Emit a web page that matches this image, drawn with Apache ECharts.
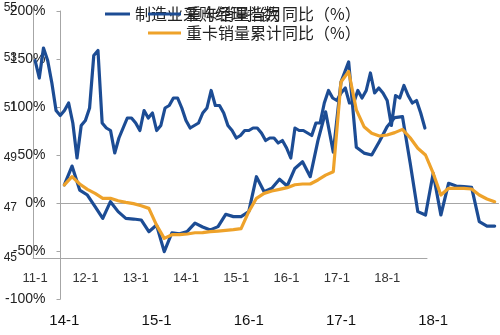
<!DOCTYPE html>
<html>
<head>
<meta charset="utf-8">
<script src="https://cdn.jsdelivr.net/npm/echarts@6/dist/echarts.min.js"></script>
<style>
  html, body { margin: 0; padding: 0; background: #fff; }
  #chart { width: 500px; height: 335px; }
</style>
</head>
<body>
<div id="chart"></div>
<script>
// Month labels in "YY-M" form, starting from a given year/month
function monthLabels(yy, mm, count) {
  const out = [];
  for (let i = 0; i < count; i++) {
    const m = (mm - 1 + i) % 12 + 1;
    const y = yy + Math.floor((mm - 1 + i) / 12);
    out.push(String(y).padStart(2, '0') + '-' + m);
  }
  return out;
}

// Manufacturing PMI, 2011-01 .. 2018-10
const pmiMonths = monthLabels(11, 1, 94);
const pmi = [
  52.9, 52.2, 53.4, 52.9, 52.0, 50.9, 50.7, 50.9, 51.2, 50.4, 49.0, 50.3,
  50.5, 51.0, 53.1, 53.3, 50.4, 50.2, 50.1, 49.2, 49.8, 50.2, 50.6, 50.6,
  50.4, 50.1, 50.9, 50.6, 50.8, 50.1, 50.3, 51.0, 51.1, 51.4, 51.4, 51.0,
  50.5, 50.2, 50.3, 50.4, 50.8, 51.0, 51.7, 51.1, 51.1, 50.8, 50.3, 50.1,
  49.8, 49.9, 50.1, 50.1, 50.2, 50.2, 50.0, 49.7, 49.8, 49.8, 49.6, 49.7,
  49.4, 49.0, 50.2, 50.1, 50.1, 50.0, 49.9, 50.4, 50.4, 51.2, 51.7, 51.4,
  51.3, 51.6, 51.8, 51.2, 51.2, 51.7, 51.4, 51.7, 52.4, 51.6, 51.8, 51.6,
  51.3, 50.3, 51.5, 51.4, 51.9, 51.5, 51.2, 51.3, 50.8, 50.2
];

// Heavy-truck sales growth (%), 2014-01 .. 2018-09
const truckMonths = monthLabels(14, 1, 57);
const truckMonthly = [
  18.8, 38.5, 13.5, 8.3, -3.8, -16, 1.4, -9, -16, -16.7, -17.7, -29.9,
  -23, -50.7, -31, -32, -29.6, -21, -25, -28, -24.6, -11.8, -14.2, -14.2,
  -9, 27.4, 11.8, 15.3, 24.7, 17.7, 36, 43, 27.4, 65, 95, 53,
  126, 147, 58, 52, 50, 64, 79.5, 89, 90, 42, -9, -12.5,
  31, -12.5, 20.5, 17.7, 17, 16.3, -19.5, -24, -24
];
const truckCumulative = [
  18.8, 27.4, 19.8, 14.2, 10, 4.9, 4.9, 2.4, 0.7, -0.7, -2.8, -5.6,
  -23, -36.8, -33, -33, -32.3, -31, -30.9, -29.9, -29.2, -28.5, -27.8, -26.7,
  -9, 4.9, 10, 12.5, 14.2, 16, 19, 19.8, 19.8, 24, 29, 32.6,
  126, 137, 97, 79.5, 72.6, 69.8, 70.8, 73.3, 76.7, 68, 57, 50,
  31, 8.3, 15.3, 15.3, 15.3, 14.6, 8.3, 4.2, 1.4
];

const NAME_PMI = '制造业采购经理指数';
const NAME_MONTH = '重卡销量当月同比（%）';
const NAME_CUM = '重卡销量累计同比（%）';

const BLUE = '#1c4c94';
const ORANGE = '#eea22a';
const AXIS = '#a6a6a6';
const NUM_FONT = 'Liberation Sans, Arial, sans-serif';
const CJK_FONT = 'Noto Sans CJK SC, sans-serif';

const chart = echarts.init(document.getElementById('chart'), null, { renderer: 'canvas' });

const lineStyleOf = (color) => ({ color: color, width: 3.2, cap: 'round', join: 'round' });

chart.setOption({
  animation: false,
  backgroundColor: '#fff',
  grid: [
    { left: 33, top: 8, width: 394, height: 250 },
    { left: 60.5, top: 11, width: 438, height: 288 }
  ],
  legend: [
    {
      data: [NAME_PMI], left: 105, top: 4.5, padding: 0,
      icon: 'rect', itemWidth: 25, itemHeight: 3, itemGap: 0,
      textStyle: { fontSize: 16, lineHeight: 19, color: '#222', fontFamily: CJK_FONT }
    },
    {
      data: [NAME_MONTH, NAME_CUM], orient: 'vertical', left: 148, top: 4.5, padding: 0,
      icon: 'rect', itemWidth: 33, itemHeight: 3, itemGap: 0,
      textStyle: { fontSize: 16, lineHeight: 19, color: '#222', fontFamily: CJK_FONT }
    }
  ],
  xAxis: [
    {
      gridIndex: 0, type: 'category', data: pmiMonths, position: 'bottom',
      axisLine: { lineStyle: { color: AXIS } },
      axisTick: { interval: 11, inside: true, length: 4, lineStyle: { color: AXIS } },
      axisLabel: { interval: 11, margin: 14, fontSize: 13, color: '#333', fontFamily: NUM_FONT }
    },
    {
      gridIndex: 1, type: 'category', data: truckMonths, position: 'bottom',
      axisLine: { show: false, onZero: false },
      axisTick: { show: false },
      axisLabel: { interval: 11, margin: 14, fontSize: 15, color: '#111', fontFamily: NUM_FONT }
    },
    {
      gridIndex: 1, type: 'category', data: truckMonths, position: 'bottom',
      axisLine: { onZero: true, lineStyle: { color: AXIS } },
      axisTick: { interval: 11, length: 5, lineStyle: { color: AXIS } },
      axisLabel: { show: false }
    }
  ],
  yAxis: [
    {
      gridIndex: 0, type: 'value', min: 45, max: 55, interval: 2,
      axisLine: { show: true, lineStyle: { color: AXIS } },
      axisTick: { show: false },
      splitLine: { show: false },
      axisLabel: { margin: 16, fontSize: 12, color: '#222', fontFamily: NUM_FONT }
    },
    {
      gridIndex: 1, type: 'value', min: -100, max: 200, interval: 50,
      axisLine: { show: true, lineStyle: { color: AXIS } },
      axisTick: { show: true, length: 4, lineStyle: { color: AXIS } },
      splitLine: { show: false },
      axisLabel: { margin: 15, fontSize: 14, color: '#222', fontFamily: NUM_FONT, formatter: '{value}%' }
    }
  ],
  series: [
    {
      name: NAME_PMI, type: 'line', xAxisIndex: 0, yAxisIndex: 0, data: pmi,
      color: BLUE, showSymbol: false, symbol: 'none', lineStyle: lineStyleOf(BLUE), z: 2
    },
    {
      name: NAME_MONTH, type: 'line', xAxisIndex: 1, yAxisIndex: 1, data: truckMonthly,
      color: BLUE, showSymbol: false, symbol: 'none', lineStyle: lineStyleOf(BLUE), z: 3
    },
    {
      name: NAME_CUM, type: 'line', xAxisIndex: 1, yAxisIndex: 1, data: truckCumulative,
      color: ORANGE, showSymbol: false, symbol: 'none', lineStyle: lineStyleOf(ORANGE), z: 4
    }
  ]
});
</script>
</body>
</html>
